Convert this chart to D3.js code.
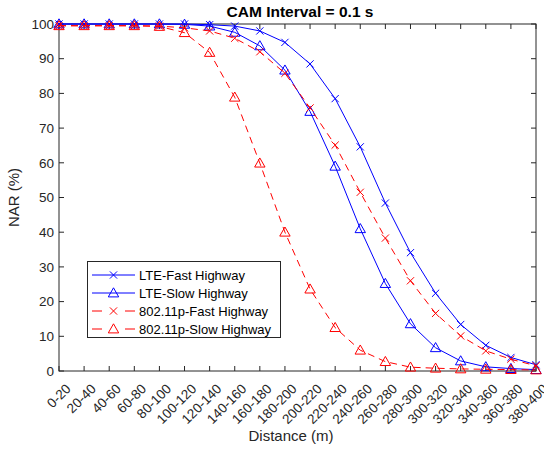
<!DOCTYPE html>
<html>
<head>
<meta charset="utf-8">
<script src="https://cdn.jsdelivr.net/npm/d3@7"></script>
<style>
  body { margin: 0; background: #fff; }
  svg { display: block; font-family: "Liberation Sans", Arial, sans-serif; }
</style>
</head>
<body>
<svg id="chart" width="544" height="455"></svg>
<script>
const WIDTH = 544;
const HEIGHT = 455;

// --- data ---
const distances = ["0-20", "20-40", "40-60", "60-80", "80-100", "100-120", "120-140", "140-160",
  "160-180", "180-200", "200-220", "220-240", "240-260", "260-280", "280-300", "300-320",
  "320-340", "340-360", "360-380", "380-400"];
const yTicks = [0, 10, 20, 30, 40, 50, 60, 70, 80, 90, 100];

const lteFast = [100, 100, 100, 100, 100, 100, 99.8, 99.4, 98, 94.7, 88.5, 78.5, 64.6, 48.4, 34.1, 22.4, 13.4, 7.4, 3.9, 1.8];
const lteSlow = [100, 100, 100, 100, 100, 99.9, 99.4, 97.6, 93.7, 86.7, 74.8, 59, 41, 25.2, 13.6, 6.7, 2.9, 1.2, 0.7, 0.4];
const p80211Fast = [99.5, 99.5, 99.5, 99.5, 99.4, 98.9, 98, 95.9, 92, 85.8, 75.8, 65.1, 51.5, 38.3, 26, 16.6, 10.1, 5.8, 3.4, 1.5];
const p80211Slow = [99.5, 99.5, 99.5, 99.5, 99.3, 97.5, 91.8, 78.9, 59.9, 40, 23.6, 12.5, 6, 2.7, 1.1, 0.8, 0.6, 0.5, 0.4, 0.3];

const seriesNames = ["LTE-Fast Highway", "LTE-Slow Highway", "802.11p-Fast Highway", "802.11p-Slow Highway"];
const seriesValues = [lteFast, lteSlow, p80211Fast, p80211Slow];

// styles per series
const styles = [
  { color: "#0000ff", dash: null, marker: "x" },
  { color: "#0000ff", dash: null, marker: "tri" },
  { color: "#ff0000", dash: "7,5", marker: "x" },
  { color: "#ff0000", dash: "7,5", marker: "tri" }
];

const margin = { left: 59, right: 8, top: 24, bottom: 84 };
const axisColor = "#262626";

const svg = d3.select("#chart").attr("viewBox", [0, 0, WIDTH, HEIGHT]);

const x = d3.scalePoint()
  .domain(distances)
  .range([margin.left, WIDTH - margin.right]);

const y = d3.scaleLinear()
  .domain([0, 100])
  .range([HEIGHT - margin.bottom, margin.top]);

const x0 = margin.left, x1 = WIDTH - margin.right;
const y0 = HEIGHT - margin.bottom, y1 = margin.top;

// --- axes (MATLAB style: box with inward ticks) ---
const tickLen = 5;
const axes = svg.append("g");

axes.append("rect")
  .attr("x", x0).attr("y", y1)
  .attr("width", x1 - x0).attr("height", y0 - y1)
  .attr("fill", "none")
  .attr("stroke", axisColor)
  .attr("stroke-width", 1);

distances.forEach(d => {
  const px = x(d);
  axes.append("line").attr("x1", px).attr("x2", px).attr("y1", y0).attr("y2", y0 - tickLen)
    .attr("stroke", axisColor);
  axes.append("line").attr("x1", px).attr("x2", px).attr("y1", y1).attr("y2", y1 + tickLen)
    .attr("stroke", axisColor);
  axes.append("text")
    .attr("transform", `translate(${px + 6},${y0 + 12}) rotate(-45)`)
    .attr("text-anchor", "end")
    .attr("dy", "0.7em")
    .attr("font-size", 13.5)
    .attr("fill", axisColor)
    .text(d);
});

yTicks.forEach(t => {
  const py = y(t);
  axes.append("line").attr("x1", x0).attr("x2", x0 + tickLen).attr("y1", py).attr("y2", py)
    .attr("stroke", axisColor);
  axes.append("line").attr("x1", x1).attr("x2", x1 - tickLen).attr("y1", py).attr("y2", py)
    .attr("stroke", axisColor);
  axes.append("text")
    .attr("x", x0 - 5).attr("y", py)
    .attr("dy", "0.35em")
    .attr("text-anchor", "end")
    .attr("font-size", 13.5)
    .attr("fill", axisColor)
    .text(t);
});

// labels & title
svg.append("text")
  .attr("x", 291).attr("y", 441)
  .attr("text-anchor", "middle")
  .attr("font-size", 15)
  .attr("fill", axisColor)
  .text("Distance (m)");

svg.append("text")
  .attr("transform", `translate(19,${(y0 + y1) / 2}) rotate(-90)`)
  .attr("text-anchor", "middle")
  .attr("font-size", 15)
  .attr("fill", axisColor)
  .text("NAR (%)");

svg.append("text")
  .attr("x", 300).attr("y", 17)
  .attr("text-anchor", "middle")
  .attr("font-size", 15.5)
  .attr("font-weight", "bold")
  .attr("fill", "#000")
  .text("CAM Interval = 0.1 s");

// --- markers ---
function drawMarker(g, type, cx, cy, color) {
  if (type === "x") {
    const s = 3.6;
    g.append("path")
      .attr("d", `M${cx - s},${cy - s}L${cx + s},${cy + s}M${cx - s},${cy + s}L${cx + s},${cy - s}`)
      .attr("stroke", color).attr("stroke-width", 1).attr("fill", "none");
  } else {
    const s = 5.2;
    g.append("path")
      .attr("d", `M${cx},${cy - s}L${cx + s},${cy + s * 0.75}L${cx - s},${cy + s * 0.75}Z`)
      .attr("stroke", color).attr("stroke-width", 1).attr("fill", "none");
  }
}

const line = d3.line()
  .x((d, i) => x(distances[i]))
  .y(d => y(d));

const plot = svg.append("g");

seriesValues.forEach((vals, si) => {
  const st = styles[si];
  const g = plot.append("g");
  g.append("path")
    .datum(vals)
    .attr("d", line)
    .attr("fill", "none")
    .attr("stroke", st.color)
    .attr("stroke-width", 1)
    .attr("stroke-dasharray", st.dash);
  vals.forEach((v, i) => drawMarker(g, st.marker, x(distances[i]), y(v), st.color));
});

// --- legend ---
const legend = svg.append("g");
legend.append("rect")
  .attr("x", 87.5).attr("y", 261.5)
  .attr("width", 193).attr("height", 76)
  .attr("fill", "#fff")
  .attr("stroke", axisColor)
  .attr("stroke-width", 1);

seriesNames.forEach((name, i) => {
  const st = styles[i];
  const ly = 275 + i * 18;
  legend.append("line")
    .attr("x1", 92).attr("x2", 135).attr("y1", ly).attr("y2", ly)
    .attr("stroke", st.color)
    .attr("stroke-width", 1)
    .attr("stroke-dasharray", st.dash ? "10,23" : null);
  drawMarker(legend, st.marker, 113.5, ly, st.color);
  legend.append("text")
    .attr("x", 139).attr("y", ly)
    .attr("dy", "0.35em")
    .attr("font-size", 13)
    .attr("fill", "#000")
    .text(name);
});
</script>
</body>
</html>
